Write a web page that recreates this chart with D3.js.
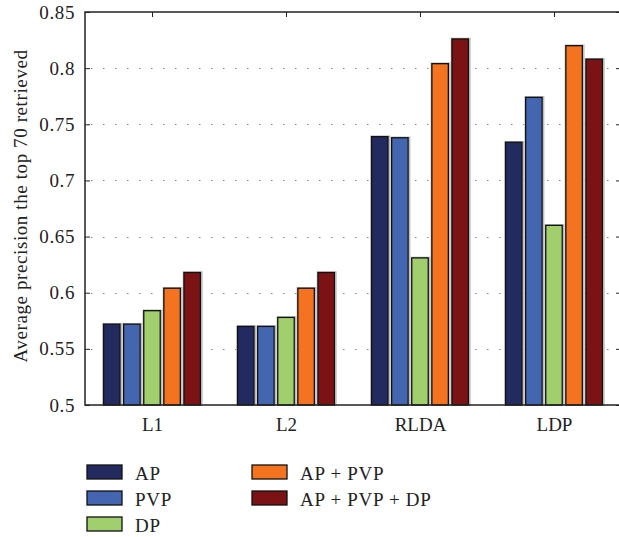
<!DOCTYPE html>
<html>
<head>
<meta charset="utf-8">
<script src="https://cdn.jsdelivr.net/npm/d3@7"></script>
<style>
  html, body { margin: 0; padding: 0; background: #fff; }
  svg { display: block; }
  svg text { font-family: "Liberation Serif", "Times New Roman", serif !important; fill: #222; }
</style>
</head>
<body>
<svg id="chart" width="619" height="537"></svg>
<script>
const categories = ["L1", "L2", "RLDA", "LDP"];
const seriesNames = ["AP", "PVP", "DP", "AP + PVP", "AP + PVP + DP"];
const AP       = [0.572, 0.570, 0.739, 0.734];
const PVP      = [0.572, 0.570, 0.738, 0.774];
const DP       = [0.584, 0.578, 0.631, 0.660];
const AP_PVP   = [0.604, 0.604, 0.804, 0.820];
const AP_PVP_DP= [0.618, 0.618, 0.826, 0.808];
const seriesValues = [AP, PVP, DP, AP_PVP, AP_PVP_DP];
const colors = ["#232a5f", "#4466b0", "#a1cf6e", "#f37321", "#7b1315"];
const yTicks = [0.5, 0.55, 0.6, 0.65, 0.7, 0.75, 0.8, 0.85];
const yLabel = "Average precision the top 70 retrieved";

const FS = "19px";
const svg = d3.select("#chart");
const m = { left: 85, top: 12, right: 621, bottom: 405 };

const x = d3.scaleLinear().domain([0.5, categories.length + 0.5]).range([m.left, m.right]);
const y = d3.scaleLinear().domain([0.5, 0.85]).range([m.bottom, m.top]);

const groupW = 0.75;
const step = groupW / seriesNames.length;
const barW = step * 0.82;

// gridlines
svg.append("g").selectAll("line")
  .data(yTicks.filter(t => t > 0.5 && t < 0.85))
  .join("line")
  .attr("x1", m.left + 6).attr("x2", m.right)
  .attr("y1", d => Math.round(y(d)) + 0.5).attr("y2", d => Math.round(y(d)) + 0.5)
  .attr("stroke", "#8a8a8a").attr("stroke-width", 1.2)
  .attr("stroke-dasharray", "1.5,10.5");

// bars
const bars = svg.append("g");
const unit = x(1) - x(0);
seriesValues.forEach((vals, s) => {
  vals.forEach((v, i) => {
    const cx = x(i + 1) - groupW / 2 * unit + (s + 0.5) * step * unit;
    const w = barW * unit;
    const x0 = cx - w / 2;
    const yt = y(v);
    bars.append("rect")
      .attr("x", x0 - 0.5).attr("y", yt - 0.5)
      .attr("width", w + 2).attr("height", y(0.5) - yt + 0.5)
      .attr("fill", "none").attr("stroke", "#bdbdbd").attr("stroke-width", 1.5);
    bars.append("rect")
      .attr("x", x0).attr("y", yt)
      .attr("width", w).attr("height", y(0.5) - yt)
      .attr("fill", colors[s]).attr("stroke", "#111").attr("stroke-width", 1.3);
  });
});

// frame
svg.append("rect")
  .attr("x", m.left).attr("y", m.top)
  .attr("width", m.right - m.left).attr("height", m.bottom - m.top)
  .attr("fill", "none").attr("stroke", "#222").attr("stroke-width", 1.5);

// y axis ticks + labels
const yAxis = d3.axisLeft(y).tickValues(yTicks).tickSize(-5).tickPadding(10)
  .tickFormat(d => d3.format("")(+d.toFixed(2)));
const ga = svg.append("g").attr("transform", `translate(${m.left},0)`).call(yAxis);
ga.attr("font-family", null).attr("font-size", null);
ga.select(".domain").remove();
ga.selectAll("line").attr("stroke", "#222");
ga.selectAll("text").style("font-size", FS).style("letter-spacing", "0.6px").attr("fill", "#222");

// right ticks
const gr = svg.append("g").attr("transform", `translate(${m.right},0)`)
  .call(d3.axisRight(y).tickValues(yTicks).tickSize(-5).tickFormat(""));
gr.select(".domain").remove();
gr.selectAll("line").attr("stroke", "#222");

// x axis (bottom labels)
const xAxis = d3.axisBottom(x).tickValues(categories.map((c, i) => i + 1))
  .tickFormat((d, i) => categories[i]).tickSize(-5).tickPadding(13);
const gx = svg.append("g").attr("transform", `translate(0,${m.bottom})`).call(xAxis);
gx.attr("font-family", null).attr("font-size", null);
gx.select(".domain").remove();
gx.selectAll("line").attr("stroke", "none");
gx.selectAll("text").style("font-size", FS).attr("fill", "#222");

// top ticks
const gt = svg.append("g").attr("transform", `translate(0,${m.top})`)
  .call(d3.axisTop(x).tickValues(categories.map((c, i) => i + 1)).tickSize(-5).tickFormat(""));
gt.select(".domain").remove();
gt.selectAll("line").attr("stroke", "#222");

// y label
svg.append("text")
  .attr("transform", `translate(27,206) rotate(-90)`)
  .attr("text-anchor", "middle")
  .style("font-size", FS)
  .style("letter-spacing", "0.6px")
  .text(yLabel);

// legend
const legPos = [[87, 465], [87, 491], [87, 517], [252, 465], [252, 491]];
const leg = svg.append("g");
seriesNames.forEach((name, s) => {
  const [lx, ly] = legPos[s];
  leg.append("rect").attr("x", lx).attr("y", ly).attr("width", 35).attr("height", 14)
    .attr("fill", colors[s]).attr("stroke", "#111").attr("stroke-width", 1.3);
  leg.append("text").attr("x", lx + 48).attr("y", ly + 15)
    .style("font-size", FS).style("letter-spacing", "0.7px").text(name);
});
</script>
</body>
</html>
